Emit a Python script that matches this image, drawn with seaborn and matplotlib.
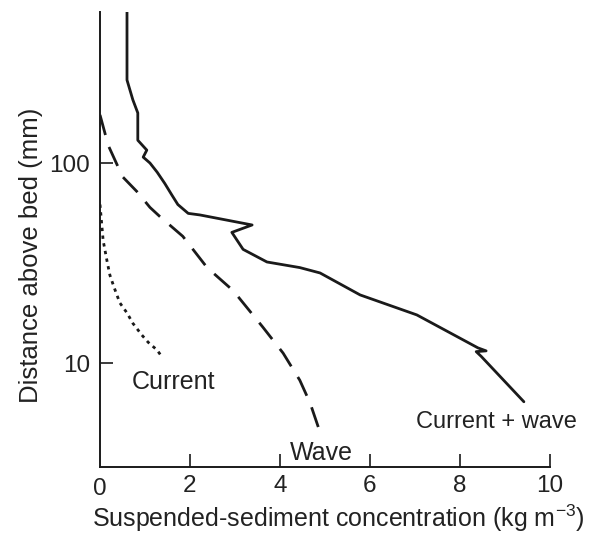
import numpy as np
import pandas as pd
import matplotlib
matplotlib.use("Agg")
import matplotlib.pyplot as plt
from matplotlib.ticker import FixedLocator, NullLocator, FixedFormatter
import seaborn as sns

# ---- data ----
cw_conc = [0.60, 0.60, 0.73, 0.84, 0.84, 1.04, 0.96, 1.11, 1.27, 1.44, 1.60, 1.73,
           1.96, 2.22, 3.38, 2.93, 3.18, 3.71, 4.44, 4.89, 5.78, 7.04, 8.40, 8.58,
           8.36, 8.47, 9.42]
cw_dist = [569, 260, 207, 178, 130, 116, 107, 100, 90, 79, 69, 62,
           56, 55, 49, 45, 37, 32, 30, 28.2, 21.9, 17.4, 11.9, 11.5,
           11.4, 10.8, 6.4]

wave_conc = [0.0, 0.11, 0.18, 0.38, 0.51, 0.82, 1.11, 1.33, 1.84, 2.38, 2.96,
             3.62, 4.07, 4.44, 4.67, 4.91]
wave_dist = [174, 141, 123, 98, 85, 72, 60, 54, 43, 30, 23,
             15.1, 11.2, 8.2, 6.3, 4.37]

cur_conc = [0.0, 0.07, 0.16, 0.22, 0.31, 0.44, 0.60, 0.73, 0.93, 1.07, 1.27, 1.38]
cur_dist = [62, 41, 32, 27.5, 24, 20, 17.8, 15.8, 13.8, 12.7, 11.6, 10.7]

x_ticks = [2, 4, 6, 8, 10]
x_ticklabels = ["2", "4", "6", "8", "10"]
y_ticks = [10, 100]
y_ticklabels = ["10", "100"]

labels = ["Current", "Wave", "Current + wave"]
label_x = [1.64, 4.91, 8.82]
label_y = [8.0, 3.55, 5.07]

# ---- style ----
sns.set_style("ticks")
plt.rcParams["font.family"] = ["Liberation Sans", "DejaVu Sans"]
plt.rcParams["mathtext.fontset"] = "custom"
plt.rcParams["mathtext.rm"] = "Liberation Sans"
plt.rcParams["mathtext.it"] = "Liberation Sans:italic"

fig = plt.figure(figsize=(5.91, 5.36), dpi=100)
ax = fig.add_axes([100/591, 1-467/536, 450/591, 455/536])
ax.set_yscale("log")

col = "#1a1a1a"
lw = 2.0
df_cw = pd.DataFrame({"conc": cw_conc, "dist": cw_dist})
df_wave = pd.DataFrame({"conc": wave_conc, "dist": wave_dist})
df_cur = pd.DataFrame({"conc": cur_conc, "dist": cur_dist})

sns.lineplot(data=df_cw, x="conc", y="dist", sort=False, estimator=None,
             color=col, linewidth=lw, ax=ax)
sns.lineplot(data=df_wave, x="conc", y="dist", sort=False, estimator=None,
             color=col, linewidth=lw, linestyle=(0, (7.5, 4.5)), ax=ax)
sns.lineplot(data=df_cur, x="conc", y="dist", sort=False, estimator=None,
             color=col, linewidth=lw, linestyle=(0, (1.2, 1.6)), ax=ax)

ax.set_xlim(0, 10)
ax.set_ylim(3.02, 569)

ax.xaxis.set_major_locator(FixedLocator(x_ticks))
ax.xaxis.set_major_formatter(FixedFormatter(x_ticklabels))
ax.yaxis.set_major_locator(FixedLocator(y_ticks))
ax.yaxis.set_major_formatter(FixedFormatter(y_ticklabels))
ax.yaxis.set_minor_locator(NullLocator())
ax.xaxis.set_minor_locator(NullLocator())

for s in ["top", "right"]:
    ax.spines[s].set_visible(False)
for s in ["left", "bottom"]:
    ax.spines[s].set_linewidth(1.4)
    ax.spines[s].set_color(col)

ax.tick_params(axis="x", direction="in", length=9.5, width=1.2, color=col,
               labelsize=17.5, pad=5.5, labelcolor="#222222")
ax.tick_params(axis="y", direction="in", length=9.5, width=1.2, color=col,
               labelsize=17.5, pad=7, labelcolor="#222222")

# zero label on x axis (tick coincides with y axis)
ax.text(0, -0.024, "0", transform=ax.get_xaxis_transform(), ha="center", va="top",
        fontsize=17.5, color="#222222")

ax.set_xlabel(r"Suspended-sediment concentration (kg m$^{-3}$)", fontsize=18,
              color="#222222", labelpad=4)
ax.set_ylabel("Distance above bed (mm)", fontsize=18.5, color="#222222", labelpad=5)
ax.xaxis.label.set_x(0.529)
ax.yaxis.label.set_y(0.466)

for t, xx, yy, fs in zip(labels, label_x, label_y, [18, 18, 17]):
    ax.text(xx, yy, t, ha="center", va="center", fontsize=fs, color="#222222",
            clip_on=False)

fig.savefig("out.png", dpi=100)
